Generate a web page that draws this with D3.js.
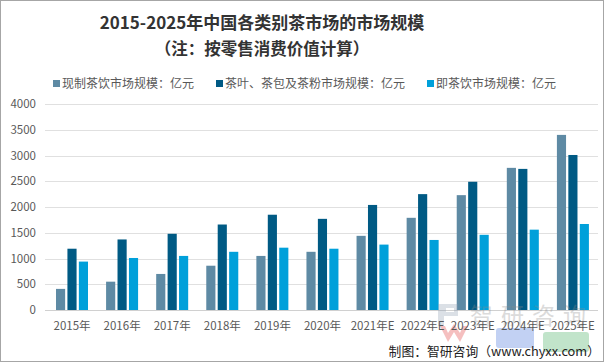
<!DOCTYPE html>
<html>
<head>
<meta charset="utf-8">
<script src="https://cdn.jsdelivr.net/npm/d3@7"></script>
<style>
  body { margin: 0; background: #fff; }
  svg { display: block; }
</style>
</head>
<body>
<script>
// data
const years = ["2015年", "2016年", "2017年", "2018年", "2019年", "2020年", "2021年E", "2022年E", "2023年E", "2024年E", "2025年E"];
const seriesNames = ["现制茶饮市场规模：亿元", "茶叶、茶包及茶粉市场规模：亿元", "即茶饮市场规模：亿元"];
const freshTea = [410, 550, 700, 860, 1050, 1130, 1440, 1790, 2230, 2760, 3400];
const leafTea = [1190, 1370, 1480, 1660, 1850, 1770, 2040, 2250, 2490, 2740, 3010];
const rtdTea = [940, 1010, 1050, 1130, 1210, 1190, 1270, 1360, 1460, 1560, 1670];
const yTicks = [0, 500, 1000, 1500, 2000, 2500, 3000, 3500, 4000];
const colors = ["#5e8aa4", "#005a84", "#00a0da"];

const W = 605, H = 363;
const font = "'Noto Sans CJK SC', 'Microsoft YaHei', sans-serif";

const svg = d3.select("body").append("svg")
    .attr("width", W).attr("height", H);

svg.append("rect")
    .attr("x", 0.5).attr("y", 0.5)
    .attr("width", W - 2).attr("height", H - 2)
    .attr("fill", "#fff").attr("stroke", "#a6a6a6");

// title
svg.append("text")
    .attr("x", 262).attr("y", 29)
    .attr("text-anchor", "middle")
    .attr("font-family", font).attr("font-weight", "bold")
    .attr("font-size", 17).attr("fill", "#333")
    .text("2015-2025年中国各类别茶市场的市场规模");
svg.append("text")
    .attr("x", 262).attr("y", 55)
    .attr("text-anchor", "middle")
    .attr("font-family", font).attr("font-weight", "bold")
    .attr("font-size", 16.5).attr("fill", "#333")
    .text("（注：按零售消费价值计算）");

// legend
const legendX = [53, 216, 427];
const legend = svg.append("g");
seriesNames.forEach((name, i) => {
    legend.append("rect")
        .attr("x", legendX[i]).attr("y", 80)
        .attr("width", 7).attr("height", 7)
        .attr("fill", colors[i]);
    legend.append("text")
        .attr("x", legendX[i] + 9).attr("y", 88)
        .attr("font-family", font).attr("font-size", 12)
        .attr("fill", "#595959")
        .text(name);
});

const x0 = d3.scaleBand().domain(years).range([47, 598]);
const x1 = d3.scaleBand().domain([0, 1, 2]).range([9, 41]).paddingInner(0.2);
const y = d3.scaleLinear().domain([0, 4000]).range([310, 104]);

// grid
svg.append("g")
    .selectAll("line")
    .data(yTicks)
    .join("line")
    .attr("x1", 45).attr("x2", 598)
    .attr("y1", d => Math.round(y(d)) + 0.5)
    .attr("y2", d => Math.round(y(d)) + 0.5)
    .attr("stroke", d => d === 0 ? "#d0d0d0" : "#e0e0e0");

// y labels
svg.append("g")
    .selectAll("text")
    .data(yTicks)
    .join("text")
    .attr("x", 36).attr("y", d => y(d) + 4)
    .attr("text-anchor", "end")
    .attr("font-family", font).attr("font-size", 11.5)
    .attr("fill", "#595959")
    .text(d => d);

// bars
const series = [freshTea, leafTea, rtdTea];
const groups = svg.append("g")
    .selectAll("g")
    .data(years)
    .join("g")
    .attr("transform", d => `translate(${x0(d)},0)`);

groups.selectAll("rect")
    .data((d, i) => series.map((s, k) => ({ k, v: s[i] })))
    .join("rect")
    .attr("x", d => x1(d.k))
    .attr("width", x1.bandwidth())
    .attr("y", d => y(d.v))
    .attr("height", d => y(0) - y(d.v))
    .attr("fill", d => colors[d.k]);

// watermark logo (faint)
const wm = svg.append("g").attr("opacity", 0.3);
wm.append("path")
    .attr("d", "M438,304 h20 v12 h-14 v10 h-6 z M446,308 h8 v4 h-8 z")
    .attr("fill", "#8a9ab0").attr("fill-rule", "evenodd");
wm.append("text")
    .attr("x", 470).attr("y", 324)
    .attr("font-family", font).attr("font-size", 23)
    .attr("fill", "#8a8a8a").attr("letter-spacing", 8)
    .text("智研咨询");
wm.append("path")
    .attr("d", "M440,326 l8,16 l6,-10 l6,10 l8,-16 h-5 l-3,7 l-6,-9 l-6,9 l-3,-7 z")
    .attr("fill", "#e03030");
wm.append("rect")
    .attr("x", 496).attr("y", 328).attr("width", 38).attr("height", 20)
    .attr("fill", "#3a6ad8").attr("rx", 3);
wm.append("rect")
    .attr("x", 543).attr("y", 332).attr("width", 46).attr("height", 20)
    .attr("fill", "#34a853").attr("rx", 3);

// x labels
svg.append("g")
    .selectAll("text")
    .data(years)
    .join("text")
    .attr("x", d => x0(d) + x0.bandwidth() / 2)
    .attr("y", 330)
    .attr("text-anchor", "middle")
    .attr("font-family", font).attr("font-size", 11.5)
    .attr("fill", "#595959")
    .text(d => d);

// source
svg.append("text")
    .attr("x", 600).attr("y", 356)
    .attr("text-anchor", "end")
    .attr("font-family", font).attr("font-size", 12.8)
    .attr("fill", "#222")
    .text("制图：智研咨询（www.chyxx.com）");
</script>
</body>
</html>
